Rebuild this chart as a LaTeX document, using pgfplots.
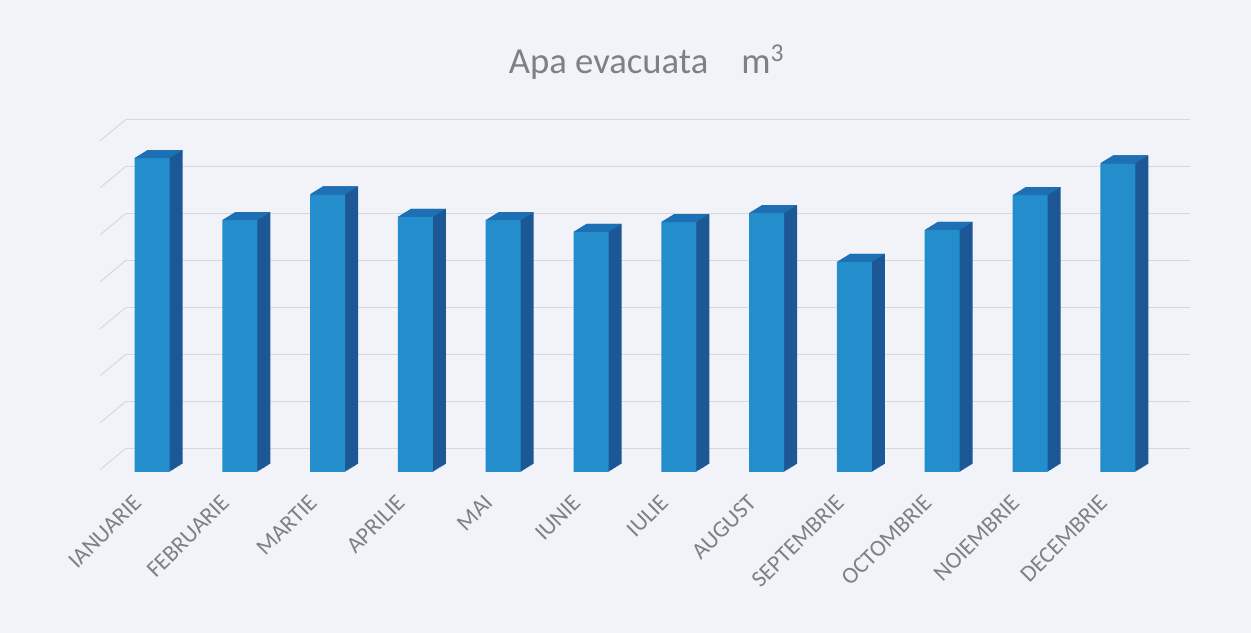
\documentclass[border=0pt]{standalone}
\usepackage{pgfplots}
\pgfplotsset{compat=1.18}
\usepackage{pgfplotstable}
\usepackage{fontspec}
\setmainfont{Carlito}
\definecolor{bgc}{RGB}{241,243,248}
\definecolor{frontc}{RGB}{36,141,204}
\definecolor{topc}{RGB}{30,112,180}
\definecolor{sidec}{RGB}{28,88,150}
\definecolor{txtc}{RGB}{125,128,132}
\definecolor{gridc}{RGB}{214,216,221}

\pgfplotstableread{
x y
0 6.68
1 5.36
2 5.91
3 5.43
4 5.36
5 5.11
6 5.32
7 5.51
8 4.47
9 5.15
10 5.89
11 6.57
}\data

\pgfdeclareplotmark{bartop}{%
 \pgfpathmoveto{\pgfpoint{-10.5pt}{0pt}}%
 \pgfpathlineto{\pgfpoint{10.5pt}{0pt}}%
 \pgfpathlineto{\pgfpoint{18.3pt}{4.8pt}}%
 \pgfpathlineto{\pgfpoint{-2.7pt}{4.8pt}}%
 \pgfpathclose
 \pgfusepathqfill}

\begin{document}
\begin{tikzpicture}
\fill[bgc] (0,0) rectangle (750.6pt,379.8pt);
\useasboundingbox (0,0) rectangle (750.6pt,379.8pt);
\node[text=txtc, font=\fontsize{22}{26}\selectfont] at (388pt,342.6pt) {Apa evacuata\hspace{0.9em}m\textsuperscript{3}};
\begin{axis}[
 at={(75.4pt,96.6pt)}, anchor=south west,
 scale only axis, width=638.5pt, height=217.1pt,
 xmin=-0.3, xmax=11.82, ymin=0, ymax=7.7,
 axis line style={draw=none}, major tick style={draw=none},
 ytick={0.5,1.5,2.5,3.5,4.5,5.5,6.5,7.5}, yticklabels={}, ymajorgrids,
 grid style={gridc, line width=0.6pt},
 xtick={0,1,2,3,4,5,6,7,8,9,10,11},
 xticklabels={IANUARIE,FEBRUARIE,MARTIE,APRILIE,MAI,IUNIE,IULIE,AUGUST,SEPTEMBRIE,OCTOMBRIE,NOIEMBRIE,DECEMBRIE},
 xticklabel style={xshift=-12pt, yshift=-8pt, rotate=45, anchor=north east, text=txtc, font=\fontsize{14}{16}\selectfont},
 clip=false,
]
\pgfplotsinvokeforeach{0,1,2,3,4,5,6,7}{
 \draw[gridc, line width=0.6pt] (axis cs:-0.3,#1+0.5) -- (axis cs:-0.59,#1+0.05);
}
\pgfplotsinvokeforeach{1,2,3,4,5,6,7,8,9,10,11,12}{
 \addplot[ybar, bar width=21pt, bar shift=0pt, fill=sidec, draw=none, xshift=#1*0.65pt, yshift=#1*0.4pt] table[x=x,y=y] {\data};
}
\addplot[ybar, bar width=21pt, bar shift=0pt, fill=frontc, draw=none] table[x=x,y=y] {\data};
\addplot[only marks, mark=bartop, mark options={fill=topc, draw=none}] table[x=x,y=y] {\data};
\end{axis}
\end{tikzpicture}
\end{document}
